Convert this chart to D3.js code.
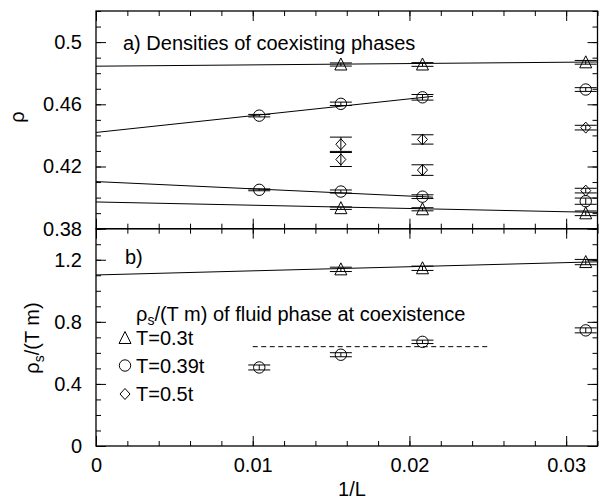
<!DOCTYPE html>
<html>
<head>
<meta charset="utf-8">
<script src="https://cdn.jsdelivr.net/npm/d3@7"></script>
<style>
  body { margin: 0; background: #fff; }
  svg text { font-family: "Liberation Sans", Arial, sans-serif; fill: #000; }
</style>
</head>
<body>
<div id="chart"></div>
<script>
// system sizes (1/L uses these)
var sizes = [96, 64, 48, 32];

// a) densities of coexisting phases, one array per branch
var tri_liq = [
  {L: 64, v: 0.4856, e: 0.0010},
  {L: 48, v: 0.4856, e: 0.0012},
  {L: 32, v: 0.4870, e: 0.0012}
];
var tri_gas = [
  {L: 64, v: 0.3932, e: 0.0008},
  {L: 48, v: 0.3925, e: 0.0010},
  {L: 32, v: 0.3899, e: 0.0015}
];
var circ_liq = [
  {L: 96, v: 0.4527, e: 0.0008},
  {L: 64, v: 0.4603, e: 0.0011},
  {L: 48, v: 0.4645, e: 0.0018},
  {L: 32, v: 0.4695, e: 0.0012}
];
var circ_gas = [
  {L: 96, v: 0.4050, e: 0.0006},
  {L: 64, v: 0.4039, e: 0.0010},
  {L: 48, v: 0.4006, e: 0.0012},
  {L: 32, v: 0.3977, e: 0.0020}
];
var diam = [
  {L: 64, v: 0.4343, e: 0.0046},
  {L: 64, v: 0.4245, e: 0.0045},
  {L: 48, v: 0.4374, e: 0.0030},
  {L: 48, v: 0.4177, e: 0.0034},
  {L: 32, v: 0.4450, e: 0.0015},
  {L: 32, v: 0.4045, e: 0.0015}
];
// fit lines: intercept, slope, from, to (in 1/L)
var fitsTop = [
  [0.4845, 0.085, 0, 0.032],
  [0.4419, 1.08, 0, 0.0215],
  [0.4103, -0.466, 0, 0.0215],
  [0.3972, -0.21, 0, 0.032]
];

// b) superfluid density of the fluid phase
var rs_tri = [
  {L: 64, v: 1.138, e: 0.014},
  {L: 48, v: 1.145, e: 0.014},
  {L: 32, v: 1.185, e: 0.017}
];
var rs_circ = [
  {L: 96, v: 0.506, e: 0.016},
  {L: 64, v: 0.588, e: 0.013},
  {L: 48, v: 0.671, e: 0.011},
  {L: 32, v: 0.745, e: 0.016}
];
var fitsBot = [[1.102, 2.65, 0, 0.032]];
var dashBot = [0.64, 0.01, 0.025];   // level, from, to

var xTicks = [0, 0.01, 0.02, 0.03];
var yTicksTop = [0.38, 0.42, 0.46, 0.5];
var yTicksBot = [0, 0.4, 0.8, 1.2];
var legendItems = ["T=0.3t", "T=0.39t", "T=0.5t"];

var W = 599, H = 501;
var pLeft = 96, pRight = 597.5, pTop = 11, pMid = 228.7, pBottom = 446;

var svg = d3.select("#chart").append("svg")
  .attr("width", W).attr("height", H);

var x = d3.scaleLinear().domain([0, 0.032]).range([pLeft, pRight]);
var yT = d3.scaleLinear().domain([0.38, 0.52]).range([pMid, pTop]);
var yB = d3.scaleLinear().domain([0, 1.4]).range([pBottom, pMid]);

var fmt = function(d) { return d3.format("~g")(d); };

function axes(y, y0, y1, yMajor, yStep, labels) {
  var xMinor = d3.range(0, 0.0321, 0.002);
  var yMinor = d3.range(y.domain()[0], y.domain()[1] + 1e-9, yStep);
  // left
  svg.append("g").attr("transform", "translate(" + pLeft + ",0)")
    .call(d3.axisLeft(y).tickValues(yMinor).tickFormat("").tickSizeInner(-5).tickSizeOuter(0));
  svg.append("g").attr("transform", "translate(" + pLeft + ",0)")
    .call(d3.axisLeft(y).tickValues(yMajor).tickFormat(fmt).tickSizeInner(-10).tickSizeOuter(0).tickPadding(14));
  // right
  svg.append("g").attr("transform", "translate(" + pRight + ",0)")
    .call(d3.axisRight(y).tickValues(yMinor).tickFormat("").tickSizeInner(-5).tickSizeOuter(0));
  svg.append("g").attr("transform", "translate(" + pRight + ",0)")
    .call(d3.axisRight(y).tickValues(yMajor).tickFormat("").tickSizeInner(-10).tickSizeOuter(0));
  // top
  svg.append("g").attr("transform", "translate(0," + y1 + ")")
    .call(d3.axisTop(x).tickValues(xMinor).tickFormat("").tickSizeInner(-5).tickSizeOuter(0));
  svg.append("g").attr("transform", "translate(0," + y1 + ")")
    .call(d3.axisTop(x).tickValues(xTicks).tickFormat("").tickSizeInner(-10).tickSizeOuter(0));
  // bottom
  svg.append("g").attr("transform", "translate(0," + y0 + ")")
    .call(d3.axisBottom(x).tickValues(xMinor).tickFormat("").tickSizeInner(-5).tickSizeOuter(0));
  svg.append("g").attr("transform", "translate(0," + y0 + ")")
    .call(d3.axisBottom(x).tickValues(xTicks).tickFormat(labels ? fmt : "").tickSizeInner(-10).tickSizeOuter(0).tickPadding(12));
  // frame
  svg.append("rect").attr("x", pLeft).attr("y", y1)
    .attr("width", pRight - pLeft).attr("height", y0 - y1)
    .attr("fill", "none").attr("stroke", "#000").attr("stroke-width", 1.3);
}

axes(yT, pMid, pTop, yTicksTop, 0.01, false);
axes(yB, pBottom, pMid, yTicksBot, 0.1, true);

svg.selectAll(".domain").remove();
svg.selectAll(".tick line").attr("stroke", "#000").attr("stroke-width", 1);
svg.selectAll(".tick text").style("font-size", "20px")
  .style("font-family", '"Liberation Sans", Arial, sans-serif').attr("fill", "#000");

// fit lines
function fits(list, y, g) {
  g.selectAll(null).data(list).enter().append("line")
    .attr("x1", function(d) { return x(d[2]); })
    .attr("x2", function(d) { return x(d[3]); })
    .attr("y1", function(d) { return y(d[0] + d[1] * d[2]); })
    .attr("y2", function(d) { return y(d[0] + d[1] * d[3]); })
    .attr("stroke", "#000").attr("stroke-width", 1);
}
var gl = svg.append("g");
fits(fitsTop, yT, gl);
fits(fitsBot, yB, gl);
gl.append("line")
  .attr("x1", x(dashBot[1])).attr("x2", x(dashBot[2]))
  .attr("y1", yB(dashBot[0])).attr("y2", yB(dashBot[0]))
  .attr("stroke", "#000").attr("stroke-width", 1).attr("stroke-dasharray", "5,3.5");

// markers
function shape(kind, cx, cy) {
  if (kind === "tri") return "M" + cx + "," + (cy - 6.5) + "L" + (cx + 6) + "," + (cy + 5.5) + "L" + (cx - 6) + "," + (cy + 5.5) + "Z";
  if (kind === "diam") return "M" + cx + "," + (cy - 5.5) + "L" + (cx + 5) + "," + cy + "L" + cx + "," + (cy + 5.5) + "L" + (cx - 5) + "," + cy + "Z";
  return null;
}

function series(data, y, kind) {
  var g = svg.append("g");
  var pts = g.selectAll(null).data(data).enter().append("g");
  pts.append("line")
    .attr("x1", function(d) { return x(1 / d.L); }).attr("x2", function(d) { return x(1 / d.L); })
    .attr("y1", function(d) { return y(d.v - d.e); }).attr("y2", function(d) { return y(d.v + d.e); })
    .attr("stroke", "#000").attr("stroke-width", 1);
  [-1, 1].forEach(function(s) {
    pts.append("line")
      .attr("x1", function(d) { return x(1 / d.L) - 11; }).attr("x2", function(d) { return x(1 / d.L) + 11; })
      .attr("y1", function(d) { return y(d.v + s * d.e); }).attr("y2", function(d) { return y(d.v + s * d.e); })
      .attr("stroke", "#000").attr("stroke-width", 1);
  });
  if (kind === "circ") {
    pts.append("circle")
      .attr("cx", function(d) { return x(1 / d.L); }).attr("cy", function(d) { return y(d.v); })
      .attr("r", 5.7).attr("fill", "none").attr("stroke", "#000").attr("stroke-width", 1);
  } else {
    pts.append("path")
      .attr("d", function(d) { return shape(kind, x(1 / d.L), y(d.v)); })
      .attr("fill", "none").attr("stroke", "#000").attr("stroke-width", 1);
  }
}

series(tri_liq, yT, "tri");
series(tri_gas, yT, "tri");
series(circ_liq, yT, "circ");
series(circ_gas, yT, "circ");
series(diam, yT, "diam");
series(rs_tri, yB, "tri");
series(rs_circ, yB, "circ");

// texts
svg.append("text").attr("x", 123).attr("y", 50).style("font-size", "20px")
  .text("a) Densities of coexisting phases");
svg.append("text").attr("x", 125).attr("y", 264).style("font-size", "20px").text("b)");

var lg = svg.append("text").attr("x", 136).attr("y", 321).style("font-size", "20px");
lg.append("tspan").text("ρ");
lg.append("tspan").attr("dy", 4).style("font-size", "14px").text("s");
lg.append("tspan").attr("dy", -4).text("/(T m) of fluid phase at coexistence");

var kinds = ["tri", "circ", "diam"];
legendItems.forEach(function(t, i) {
  var by = 345 + i * 28;
  svg.append("text").attr("x", 136).attr("y", by).style("font-size", "20px").text(t);
  if (kinds[i] === "circ") {
    svg.append("circle").attr("cx", 125).attr("cy", by - 7.5).attr("r", 5.7)
      .attr("fill", "none").attr("stroke", "#000");
  } else {
    svg.append("path").attr("d", shape(kinds[i], 125, by - 7))
      .attr("fill", "none").attr("stroke", "#000");
  }
});

// axis titles
svg.append("text").attr("transform", "translate(24,117) rotate(-90)")
  .attr("text-anchor", "middle").style("font-size", "20px").text("ρ");
var yl = svg.append("text").attr("transform", "translate(39,338) rotate(-90)")
  .attr("text-anchor", "middle").style("font-size", "20px");
yl.append("tspan").text("ρ");
yl.append("tspan").attr("dy", 5).style("font-size", "14px").text("s");
yl.append("tspan").attr("dy", -5).text("/(T m)");
svg.append("text").attr("x", 352).attr("y", 496).attr("text-anchor", "middle")
  .style("font-size", "20px").text("1/L");
</script>
</body>
</html>
